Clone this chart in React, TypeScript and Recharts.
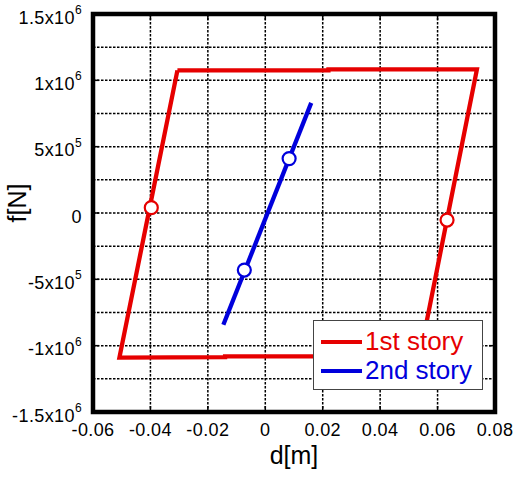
import { ComposedChart, Line, Scatter, XAxis, YAxis, CartesianGrid, ReferenceArea, Legend } from 'recharts';

// axis ticks
const xTicks = [-0.06, -0.04, -0.02, 0, 0.02, 0.04, 0.06, 0.08];
const xTickLabels = ['-0.06', '-0.04', '-0.02', '0', '0.02', '0.04', '0.06', '0.08'];
const yTicks = [-1.5e6, -1.25e6, -1e6, -7.5e5, -5e5, -2.5e5, 0, 2.5e5, 5e5, 7.5e5, 1e6, 1.25e6, 1.5e6];
const yMajorTicks = [-1.5e6, -1e6, -5e5, 0, 5e5, 1e6, 1.5e6];
const yTickLabels = ['-1.5x10^6', '-1x10^6', '-5x10^5', '0', '5x10^5', '1x10^6', '1.5x10^6'];

// 1st story hysteresis loop (d [m], f [N])
const story1D = [-0.0306, 0.022, 0.022, 0.0737, 0.0538, -0.014, -0.014, -0.0508, -0.0306];
const story1F = [1.075e6, 1.075e6, 1.083e6, 1.083e6, -1.08e6, -1.08e6, -1.087e6, -1.09e6, 1.075e6];
const story1MarkD = [-0.0397, 0.0633];
const story1MarkF = [0.04e6, -0.053e6];

// 2nd story
const story2D = [-0.0146, 0.016];
const story2F = [-0.842e6, 0.83e6];
const story2MarkD = [-0.0073, 0.0083];
const story2MarkF = [-0.43e6, 0.41e6];

const RED = '#e60000';
const BLUE = '#0000dc';
const FONT = '"Liberation Sans", Arial, sans-serif';

const W = 517;
const H = 477;
const M = { top: 14, right: 22, bottom: 0, left: 0 };

const zip = (d: number[], f: number[]) => d.map((v, i) => ({ d: v, f: f[i] }));

const YTick = (props: any) => {
  const { x, y, payload } = props;
  const i = yMajorTicks.indexOf(payload.value);
  if (i < 0) return <g />;
  const [mant, exp] = yTickLabels[i].split('^');
  const right = W - M.right;
  return (
    <g>
      <line x1={x + 11} x2={x + 17} y1={y} y2={y} stroke="#000" strokeWidth={1.5} />
      <line x1={right - 6} x2={right} y1={y} y2={y} stroke="#000" strokeWidth={1.5} />
      <text x={x} y={y} dy={9.5} textAnchor="end" fontFamily={FONT} fontSize={18} letterSpacing={0.4} fill="#000">
        {mant}
        {exp && (
          <tspan dy={-9.5} fontSize={12}>
            {exp}
          </tspan>
        )}
      </text>
    </g>
  );
};

const XTick = (props: any) => {
  const { x, y, payload } = props;
  const i = xTicks.indexOf(payload.value);
  return (
    <g>
      <line x1={x} x2={x} y1={y} y2={y - 6} stroke="#000" strokeWidth={1.5} />
      <line x1={x} x2={x} y1={M.top} y2={M.top + 6} stroke="#000" strokeWidth={1.5} />
      <text x={x} y={y + 24} textAnchor="middle" fontFamily={FONT} fontSize={18} letterSpacing={0.4} fill="#000">
        {i >= 0 ? xTickLabels[i] : ''}
      </text>
    </g>
  );
};

const Marker = (color: string) => (props: any) => (
  <circle cx={props.cx} cy={props.cy} r={6.5} fill="#fff" stroke={color} strokeWidth={2.2} />
);

const LegendBox = (props: any) => {
  const items = (props.payload || []).filter((p: any) => p.type !== 'none');
  return (
    <div
      style={{
        border: '1px solid #444',
        background: '#fff',
        width: 170,
        height: 70,
        boxSizing: 'border-box',
        padding: '6px 0 0 7px',
        fontFamily: FONT,
        fontSize: 26,
        lineHeight: '29px',
      }}
    >
      {items.map((p: any) => (
        <div key={p.value} style={{ display: 'flex', alignItems: 'center', color: p.color }}>
          <span style={{ display: 'inline-block', width: 41, height: 4, background: p.color, marginRight: 3 }} />
          {p.value}
        </div>
      ))}
    </div>
  );
};

export default function App() {
  return (
    <div style={{ width: W, height: H, background: '#fff' }}>
      <style>{'body{margin:0}'}</style>
      <ComposedChart width={W} height={H} margin={M}>
        <CartesianGrid stroke="#000" strokeWidth={1.5} strokeDasharray="2.5 1.5" />
        <XAxis
          type="number"
          dataKey="d"
          domain={[-0.06, 0.08]}
          ticks={xTicks}
          height={65}
          axisLine={false}
          tickLine={false}
          tickSize={0}
          tickMargin={0}
          tick={<XTick />}
          interval={0}
          label={{ value: 'd[m]', position: 'insideBottom', offset: 13, fontSize: 25, fontFamily: FONT, fill: '#000' }}
        />
        <YAxis
          type="number"
          dataKey="f"
          domain={[-1.5e6, 1.5e6]}
          ticks={yTicks}
          width={93}
          axisLine={false}
          tickLine={false}
          tickSize={0}
          tickMargin={11}
          tick={<YTick />}
          interval={0}
          label={{ value: 'f[N]', angle: -90, position: 'insideLeft', offset: 17, fontSize: 25, fontFamily: FONT, fill: '#000', dy: -10, style: { textAnchor: 'middle' } }}
        />
        <Line
          data={zip(story1D, story1F)}
          dataKey="f"
          name="1st story"
          type="linear"
          stroke={RED}
          strokeWidth={4.3}
          strokeLinejoin="miter"
          dot={false}
          activeDot={false}
          isAnimationActive={false}
        />
        <Line
          data={zip(story2D, story2F)}
          dataKey="f"
          name="2nd story"
          type="linear"
          stroke={BLUE}
          strokeWidth={4.3}
          dot={false}
          activeDot={false}
          isAnimationActive={false}
        />
        <Scatter data={zip(story1MarkD, story1MarkF)} dataKey="f" legendType="none" shape={Marker(RED)} isAnimationActive={false} />
        <Scatter data={zip(story2MarkD, story2MarkF)} dataKey="f" legendType="none" shape={Marker(BLUE)} isAnimationActive={false} />
        <ReferenceArea x1={-0.06} x2={0.08} y1={-1.5e6} y2={1.5e6} fill="none" fillOpacity={0} stroke="#000" strokeWidth={4.5} />
        <Legend
          layout="vertical"
          align="center"
          verticalAlign="middle"
          content={<LegendBox />}
          wrapperStyle={{ left: 313, top: 320, width: 170, height: 70 }}
        />
      </ComposedChart>
    </div>
  );
}
